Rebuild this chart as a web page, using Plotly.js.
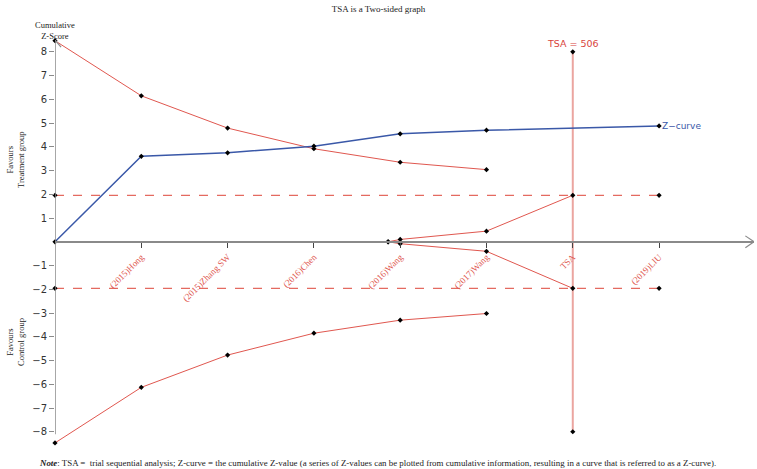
<!DOCTYPE html>
<html>
<head>
<meta charset="utf-8">
<script src="https://cdn.plot.ly/plotly-3.0.1.min.js"></script>
<style>html,body{margin:0;padding:0;background:#fff;}#chart{width:757px;height:469px;}</style>
</head>
<body>
<div id="chart"></div>
<script>
// ---- data ----
const categories = ["(2015)Hong", "(2015)Zhang SW", "(2016)Chen", "(2016)Wang", "(2017)Wang", "TSA", "(2019)LIU"];
const categoryPos = [1, 2, 3, 4, 5, 6, 7];
const zCurveX = [0, 1, 2, 3, 4, 5, 7];
const zCurveY = [0, 3.6, 3.75, 4.03, 4.55, 4.7, 4.88];
const upperBoundX = [0, 1, 2, 3, 4, 5];
const upperBoundY = [8.47, 6.15, 4.79, 3.92, 3.35, 3.04];
const lowerBoundY = [-8.47, -6.13, -4.77, -3.85, -3.3, -3.02];
const futilityX = [3.86, 4, 5, 6];
const futilityUpperY = [0, 0.1, 0.45, 1.96];
const futilityLowerY = [0, -0.08, -0.4, -1.96];
const conventionalX = [0, 7];
const conventionalUpper = [1.96, 1.96];
const conventionalLower = [-1.96, -1.96];
const tsaX = [6, 6];
const tsaY = [8, -8];
const tsaLabel = "TSA = 506";
const yTicks = [-8, -7, -6, -5, -4, -3, -2, -1, 1, 2, 3, 4, 5, 6, 7, 8];

const red = "#E0574F";
const blue = "#3A58A8";
const mk = {color: "#000", size: 4, symbol: "diamond"};

const traces = [
  {x: conventionalX, y: conventionalUpper, mode: "lines+markers", line: {color: "#E46A60", width: 1.2, dash: "dash"}, marker: mk},
  {x: conventionalX, y: conventionalLower, mode: "lines+markers", line: {color: "#E46A60", width: 1.2, dash: "dash"}, marker: mk},
  {x: tsaX, y: tsaY, mode: "lines+markers", line: {color: "#EBA5A0", width: 2}, marker: mk},
  {x: upperBoundX, y: upperBoundY, mode: "lines+markers", line: {color: red, width: 1}, marker: mk},
  {x: upperBoundX, y: lowerBoundY, mode: "lines+markers", line: {color: red, width: 1}, marker: mk},
  {x: futilityX, y: futilityUpperY, mode: "lines+markers", line: {color: red, width: 1}, marker: mk},
  {x: futilityX, y: futilityLowerY, mode: "lines+markers", line: {color: red, width: 1}, marker: mk},
  {x: zCurveX, y: zCurveY, mode: "lines+markers", line: {color: blue, width: 1.5}, marker: mk}
].map(t => Object.assign(t, {type: "scatter", showlegend: false, hoverinfo: "skip", cliponaxis: false}));

const gray = "#8a8a8a";
const xMax = 8.1, yTop = 8.5, yBot = -8.6;
const layout = {
  width: 757, height: 469,
  margin: {l: 55, r: 3, t: 40, b: 23},
  paper_bgcolor: "#fff", plot_bgcolor: "#fff",
  showlegend: false,
  title: {text: "TSA is a Two-sided graph", x: 0.5, xanchor: "center", y: 1 - 9 / 469, yanchor: "middle", yref: "container",
          font: {family: "Liberation Serif, Times New Roman, serif", size: 9, color: "#222"}},
  xaxis: {
    range: [0, xMax], showgrid: false, zeroline: false,
    anchor: "free", position: (-yBot) / (yTop - yBot),
    showline: true, linecolor: gray, linewidth: 1.5,
    tickmode: "array", tickvals: categoryPos, ticktext: categories,
    ticks: "outside", ticklen: 5, tickcolor: "#444", tickwidth: 1,
    tickangle: -45,
    tickfont: {family: "Liberation Serif, Times New Roman, serif", size: 9, color: red}
  },
  yaxis: {
    range: [yBot, yTop], showgrid: false, zeroline: false, showline: false,
    tickmode: "array", tickvals: yTicks, ticktext: yTicks.map(v => v < 0 ? "\u2212" + Math.abs(v) : String(v)),
    ticks: "outside", ticklen: 5, tickcolor: gray, tickwidth: 1,
    tickfont: {family: "DejaVu Sans, sans-serif", size: 10, color: "#333"}
  },
  shapes: [
    {type: "line", xref: "x", yref: "y", x0: 0, x1: 0, y0: -8.1, y1: yTop, line: {color: gray, width: 1.5}},
    {type: "line", xref: "x", yref: "y", x0: -0.07, x1: 0, y0: yTop - 0.3, y1: yTop, line: {color: gray, width: 1.2}},
    {type: "line", xref: "x", yref: "y", x0: 0.07, x1: 0, y0: yTop - 0.3, y1: yTop, line: {color: gray, width: 1.2}},
    {type: "line", xref: "x", yref: "y", x0: xMax - 0.1, x1: xMax, y0: 0.25, y1: 0, line: {color: gray, width: 1.2}},
    {type: "line", xref: "x", yref: "y", x0: xMax - 0.1, x1: xMax, y0: -0.25, y1: 0, line: {color: gray, width: 1.2}},
    {type: "line", xref: "x", yref: "y", x0: 0, x1: xMax, y0: 0, y1: 0, line: {color: gray, width: 1.5}}
  ],
  annotations: [
    {x: 6, y: 8, xref: "x", yref: "y", text: tsaLabel, showarrow: false, yanchor: "bottom", yshift: 1,
     font: {family: "DejaVu Sans, sans-serif", size: 9.5, color: "#D9443C"}},
    {x: 7, y: zCurveY[zCurveY.length - 1], xref: "x", yref: "y", text: "Z\u2212curve", showarrow: false, xanchor: "left", xshift: 1,
     font: {family: "DejaVu Sans, sans-serif", size: 9, color: blue}},
    {x: 0, y: 1 + (40 - 31) / 406, xref: "paper", yref: "paper", text: "Cumulative<br>Z-Score", showarrow: false,
     xanchor: "center", yanchor: "middle", font: {family: "Liberation Serif, serif", size: 8.5, color: "#222"}},
    {x: -40 / 699, y: 1 - (160 - 40) / 406, xref: "paper", yref: "paper", text: "Favours<br>Treatment group", showarrow: false,
     textangle: -90, xanchor: "center", yanchor: "middle", font: {family: "Liberation Serif, serif", size: 8.5, color: "#222"}},
    {x: -40 / 699, y: 1 - (342 - 40) / 406, xref: "paper", yref: "paper", text: "Favours<br>Control group", showarrow: false,
     textangle: -90, xanchor: "center", yanchor: "middle", font: {family: "Liberation Serif, serif", size: 8.5, color: "#222"}},
    {x: (37 - 55) / 699, y: -(463 - 446) / 406, xref: "paper", yref: "paper", xanchor: "left", yanchor: "middle", showarrow: false,
     text: "<b><i>Note</i></b>: TSA =  trial sequential analysis; Z-curve = the cumulative Z-value (a series of Z-values can be plotted from cumulative information, resulting in a curve that is referred to as a Z-curve).",
     font: {family: "Liberation Serif, serif", size: 8.9, color: "#222"}}
  ]
};

Plotly.newPlot("chart", traces, layout, {displayModeBar: false, staticPlot: true});
</script>
</body>
</html>
